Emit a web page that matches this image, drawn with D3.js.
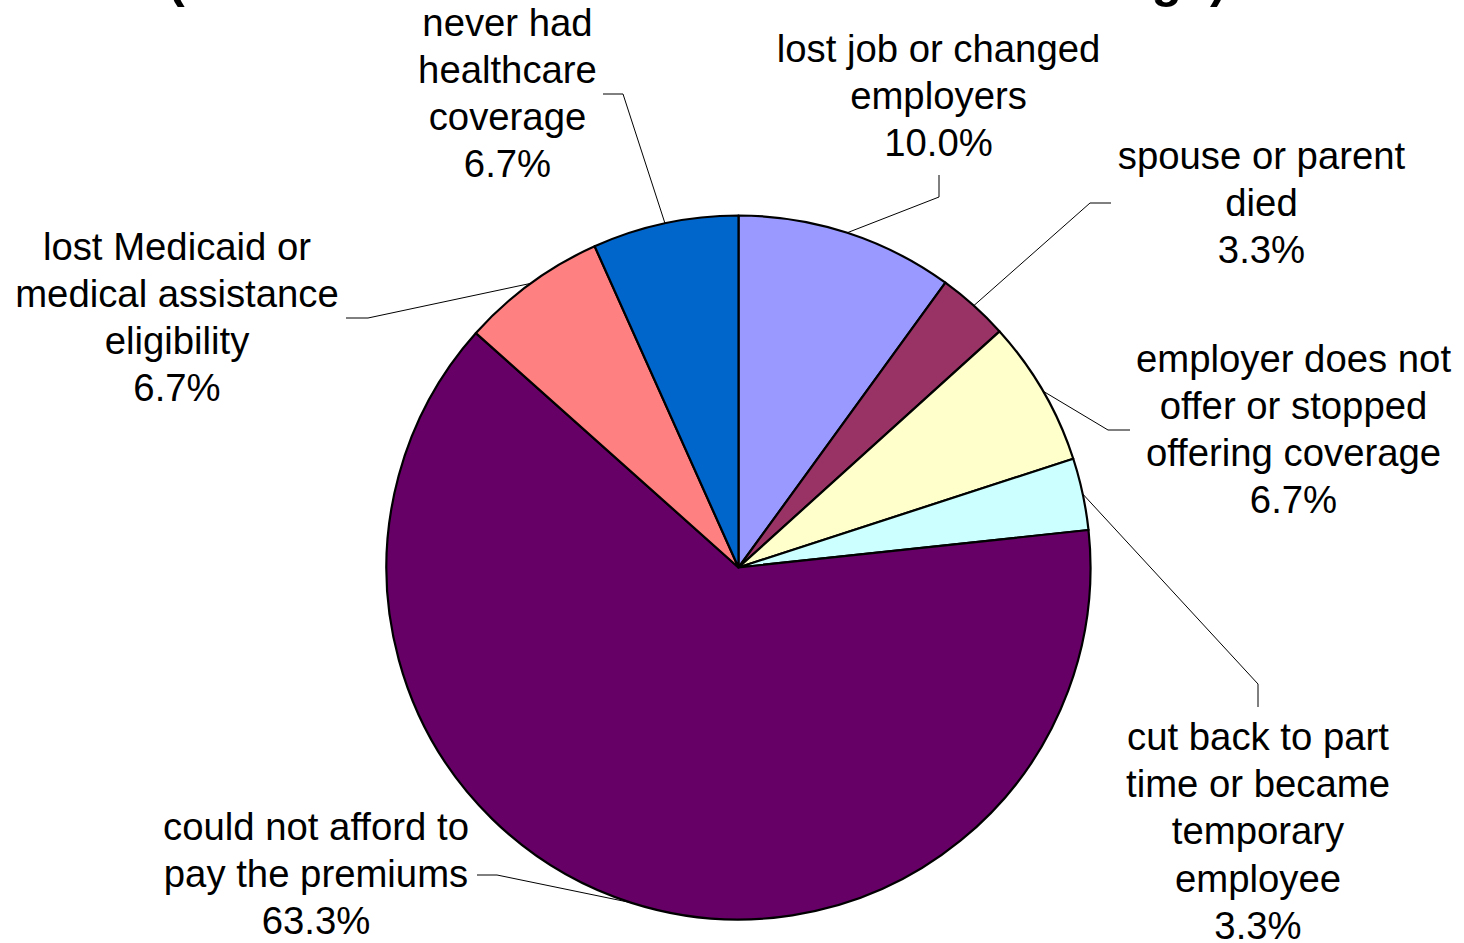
<!DOCTYPE html>
<html>
<head>
<meta charset="utf-8">
<script src="https://cdn.jsdelivr.net/npm/d3@7"></script>
<style>
  html, body { margin: 0; padding: 0; background: #fff; }
  svg { display: block; }
  text { font-family: "Liberation Sans", Arial, sans-serif; fill: #000; }
</style>
</head>
<body>
<svg id="chart" width="1464" height="943"></svg>
<script>
// ---- data ----
const categories = [
  "lost job or changed employers",
  "spouse or parent died",
  "employer does not offer or stopped offering coverage",
  "cut back to part time or became temporary employee",
  "could not afford to pay the premiums",
  "lost Medicaid or medical assistance eligibility",
  "never had healthcare coverage"
];
const values = [10.0, 3.3, 6.7, 3.3, 63.3, 6.7, 6.7];
const labelLines = [
  ["lost job or changed", "employers"],
  ["spouse or parent", "died"],
  ["employer does not", "offer or stopped", "offering coverage"],
  ["cut back to part", "time or became", "temporary", "employee"],
  ["could not afford to", "pay the premiums"],
  ["lost Medicaid or", "medical assistance", "eligibility"],
  ["never had", "healthcare", "coverage"]
];
const titleText = "(Reasons Cited for Lack of Health Coverage)";

// ---- style / layout ----
const colors = ["#9999FF", "#993366", "#FFFFCC", "#CCFFFF", "#660066", "#FF8080", "#0066CC"];
const cx = 738.5, cy = 567.5, R = 352;
// label block centre x, first baseline y, leader elbow and end
const labelLayout = [
  { x: 938.5, y: 61.7,  elbow: [939, 197],  end: [939, 175] },
  { x: 1261.5, y: 168.5, elbow: [1090, 203], end: [1111, 203] },
  { x: 1293.5, y: 371.5, elbow: [1108, 430], end: [1130, 430] },
  { x: 1258,  y: 750,   elbow: [1258, 684], end: [1258, 707] },
  { x: 316,   y: 840,   elbow: [497, 875],  end: [477, 875] },
  { x: 177,   y: 259.5, elbow: [368, 318],  end: [346, 318] },
  { x: 507.5, y: 35.5,  elbow: [623, 94],   end: [603, 94] }
];
const lineH = 47.2;
const fontSize = 38.3;

const svg = d3.select("#chart");

// title (mostly cropped above the picture, as in the reference)
svg.append("text")
  .attr("x", 168).attr("y", -3)
  .attr("font-size", 50).attr("font-weight", "bold")
  .text(titleText);

const data = categories.map((c, i) => ({ cat: c, value: values[i], i }));
const pie = d3.pie().sort(null).value(d => d.value);
const arcs = pie(data);
const arc = d3.arc().innerRadius(0).outerRadius(R);

const g = svg.append("g").attr("transform", `translate(${cx},${cy})`);
g.selectAll("path.slice").data(arcs).join("path")
  .attr("class", "slice")
  .attr("d", arc)
  .attr("fill", d => colors[d.data.i])
  .attr("stroke", "#000")
  .attr("stroke-width", 2.2)
  .attr("stroke-linejoin", "round");

// leader lines
const line = d3.line();
arcs.forEach((a, i) => {
  const mid = (a.startAngle + a.endAngle) / 2;
  const px = cx + R * Math.sin(mid), py = cy - R * Math.cos(mid);
  const L = labelLayout[i];
  svg.append("path")
    .attr("d", line([[px, py], L.elbow, L.end]))
    .attr("fill", "none")
    .attr("stroke", "#000")
    .attr("stroke-width", 1);
});

// labels
const fmt = d3.format(".1f");
arcs.forEach((a, i) => {
  const L = labelLayout[i];
  const lines = labelLines[i].concat([fmt(a.data.value) + "%"]);
  const t = svg.append("text")
    .attr("text-anchor", "middle")
    .attr("font-size", fontSize);
  lines.forEach((s, k) => {
    t.append("tspan").attr("x", L.x).attr("y", L.y + k * lineH).text(s);
  });
});
</script>
</body>
</html>
